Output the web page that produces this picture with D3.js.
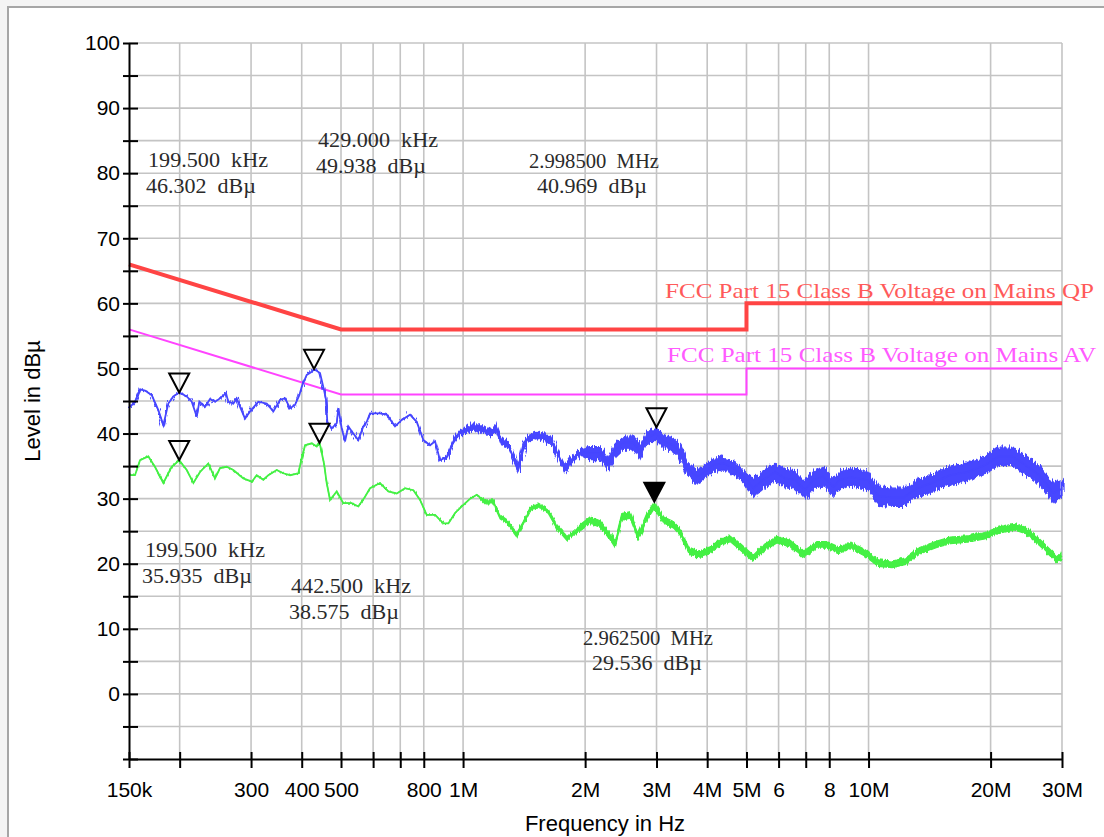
<!DOCTYPE html>
<html>
<head>
<meta charset="utf-8">
<script src="https://cdn.jsdelivr.net/npm/d3@7/dist/d3.min.js"></script>
<style>
body { margin: 0; background: #f4f4f4; }
svg { display: block; }
.tick text { font-family: "Liberation Sans", Arial, sans-serif; }
</style>
</head>
<body>
<div id="chart"></div>
<script>
// frequencies in kHz, levels in dBµV
var xTickVals = [150, 200, 300, 400, 500, 600, 700, 800, 1000, 2000, 3000, 4000, 5000, 6000, 7000, 8000, 10000, 20000, 30000];
var xTickLabels = ["150k", "", "300", "400", "500", "", "", "800", "1M", "2M", "3M", "4M", "5M", "6", "", "8", "10M", "20M", "30M"];
var yTickVals = d3.range(-10, 101, 5);

var qpFreq = [150, 500, 5000, 5000, 30000],
    qpLevel = [66, 56, 56, 60, 60];
var avFreq = [150, 500, 5000, 5000, 30000],
    avLevel = [56, 46, 46, 50, 50];

var blueFreq = [151,155.2,159.7,164.3,170.7,177.2,182.3,187.5,192.9,199.5,
  208.2,214.2,220.4,223.7,231,237.7,244.5,251.5,260.2,263.6,
  271.3,276.6,281.8,289.9,298.3,312.6,328,340.5,353.7,363.8,
  374.4,385.1,394.6,400,411.5,423.4,429,443.8,454,459.2,
  462.6,474.3,488,492.5,502,511.6,521.2,536.2,551.7,567.5,
  578.6,589.5,624,648.2,679.5,706,739.9,768.6,798.3,829,
  853,877,911,946,983,1021,1070,1112,1154,1211,
  1245,1293,1330,1369,1408,1448,1520,1578,1655,1718,
  1785,1871,1962,2057,2177,2282,2371,2486,2630,2733,
  2838,2998.5,3119,3301,3429,3562,3771,3914,4143,4385,
  4642,4914,5200,5504,5881,6225,6589,6972,7310,7739,
  8189,8506,9050,9972,10573,11429,12236,13100,14440,15915,
  17545,19340,20906,22594,24434,26410,28548,30000];
var blueLevel = [44.1,44.9,46.8,46.6,45.9,43.6,41.3,44.6,45.7,46.3,
  45.7,44.9,42.6,44.9,44.1,45.3,44.9,45.4,46.2,44.9,
  44.6,45.4,44.1,42.3,43.4,44.9,44.6,43.4,45.2,45.4,
  43.9,44.4,45.9,47.2,49.0,49.5,49.9,49.3,46.7,45.2,
  41.8,40.8,41.6,43.9,40.8,38.8,41.1,40.0,39.0,41.1,
  41.8,43.1,43.1,42.9,41.1,42.1,42.9,41.8,39.0,38.2,
  38.8,35.9,36.4,38.8,40.3,40.6,41.1,40.6,40.3,40.8,
  38.8,38.2,36.4,34.7,38.0,39.3,39.8,39.5,38.8,36.7,
  34.5,36.3,37.2,37.0,37.0,35.3,37.4,38.6,38.6,37.2,
  39.3,40.0,38.8,38.2,37.2,34.7,33.4,33.9,35.2,35.4,
  34.7,33.4,31.6,32.9,34.1,33.1,32.9,31.3,32.9,33.4,
  31.8,32.9,33.3,32.8,30.4,30.2,30.2,31.5,32.5,33.6,
  34.1,35.1,36.5,36.5,35.1,33.6,30.9,31.5];
// half width of the noisy band, from these frequencies on
var blueBandFreq = [150, 900, 1000, 2000, 5000],
    blueBandDb = [0, 0.3, 0.55, 1.0, 1.4];

var greenFreq = [151,155.2,159.7,167.4,173.8,182.3,191.1,199.5,208.2,216.2,
  224.5,235.3,244.5,251.5,261.2,271.3,287.1,301.2,309.8,321.7,
  330.9,347.1,360.3,374.4,392.4,400,407.6,423.4,435.6,442.5,
  454,461,469.8,488,506.6,531.5,551.7,573.1,589.5,624,
  654.2,686.1,719.4,754.2,783.3,813.5,853,894.1,920.1,955.7,
  992.7,1041,1081,1133,1188,1234,1281,1357,1408,1463,
  1534,1624,1703,1803,1871,1962,2057,2177,2305,2371,
  2463,2582,2707,2838,2962.5,3119,3301,3429,3596,3807,
  4067,4347,4558,4825,5200,5504,5942,6409,6911,7459,
  7898,8433,9050,9790,10573,11429,12359,13367,14738,15915,
  17545,19340,20906,22830,24434,26410,29117,30000];
var greenLevel = [33.6,33.6,35.9,36.5,34.9,32.4,34.9,35.9,34.4,32.4,
  34.1,35.4,33.1,34.7,34.9,34.4,33.1,32.6,33.6,32.9,
  33.6,34.4,33.9,33.6,33.9,36.2,38.2,38.5,38.0,38.6,
  35.4,32.4,29.8,31.1,29.3,29.3,28.8,30.3,31.6,32.4,
  31.1,30.8,31.6,31.3,29.8,27.5,27.5,26.2,26.2,27.8,
  28.8,30.0,30.6,29.5,29.5,27.2,26.5,24.4,26.2,28.3,
  29.0,28.0,25.7,23.9,24.7,25.7,26.7,26.1,24.2,23.0,
  27.2,27.5,24.2,27.2,29.0,26.7,26.0,24.9,22.1,21.4,
  22.1,23.4,23.9,22.6,20.8,22.4,23.7,23.1,21.4,22.9,
  22.9,22.1,22.8,21.7,20.1,19.9,20.4,22.0,23.0,23.6,
  23.8,24.3,25.1,25.7,25.1,23.3,20.7,21.2];
var greenBandFreq = [150, 1100, 1900],
    greenBandDb = [0, 0.3, 0.5];

var markerFreq = [199.5, 429, 2998.5, 199.5, 442.5, 2962.5],
    markerLevel = [46.302, 49.938, 40.969, 35.935, 38.575, 29.536],
    markerFilled = [false, false, false, false, false, true];

var noteLines = [
  ["199.500  kHz", "46.302  dBµ"],
  ["429.000  kHz", "49.938  dBµ"],
  ["2.998500  MHz", "40.969  dBµ"],
  ["199.500  kHz", "35.935  dBµ"],
  ["442.500  kHz", "38.575  dBµ"],
  ["2.962500  MHz", "29.536  dBµ"]
];
var notePos = [[148, 167, 146, 193], [318, 147, 316, 173], [529, 168, 537, 193],
               [145, 557, 142, 583], [291, 593, 289, 619], [583, 645, 592, 670]];

var limitNames = ["FCC Part 15 Class B Voltage on Mains QP", "FCC Part 15 Class B Voltage on Mains AV"];

var margin = {top: 43, left: 129},
    width = 933,
    height = 716;

var x = d3.scaleLog().domain([150, 30000]).range([0, width]);
var y = d3.scaleLinear().domain([-10, 100]).range([height, 0]);

var svg = d3.select("#chart").append("svg")
    .attr("width", 1104)
    .attr("height", 837);

// jagged edge for the receiver noise band
var defs = svg.append("defs");
function roughFilter(id, scale, seed) {
  var f = defs.append("filter")
      .attr("id", id)
      .attr("x", "-2%").attr("y", "-20%")
      .attr("width", "104%").attr("height", "140%");
  f.append("feTurbulence")
      .attr("type", "fractalNoise")
      .attr("baseFrequency", "0.7 0.04")
      .attr("numOctaves", 2)
      .attr("seed", seed)
      .attr("result", "t");
  f.append("feDisplacementMap")
      .attr("in", "SourceGraphic")
      .attr("in2", "t")
      .attr("scale", scale)
      .attr("xChannelSelector", "B")
      .attr("yChannelSelector", "R");
}
roughFilter("roughBlue", 9, 4);
roughFilter("roughGreen", 4, 7);

svg.append("rect")
    .attr("x", 8).attr("y", 7)
    .attr("width", 1110).attr("height", 850)
    .attr("fill", "#fff")
    .attr("stroke", "#a6a6a6")
    .attr("stroke-width", 2);

var g = svg.append("g")
    .attr("transform", "translate(" + margin.left + "," + margin.top + ")");

// grid
g.append("g").selectAll("line")
    .data(yTickVals.filter(function(d) { return d > -10; }))
    .enter().append("line")
    .attr("x1", 0).attr("x2", width)
    .attr("y1", function(d) { return y(d); })
    .attr("y2", function(d) { return y(d); })
    .attr("stroke", "#c4c4c4").attr("stroke-width", 1.6);

g.append("g").selectAll("line")
    .data(xTickVals.filter(function(d) { return d > 150; }))
    .enter().append("line")
    .attr("y1", 0).attr("y2", height)
    .attr("x1", function(d) { return x(d); })
    .attr("x2", function(d) { return x(d); })
    .attr("stroke", "#c4c4c4").attr("stroke-width", 1.6);

// limit lines
var limLine = d3.line()
    .x(function(d) { return x(d[0]); })
    .y(function(d) { return y(d[1]); });

g.append("path")
    .datum(d3.zip(avFreq, avLevel))
    .attr("d", limLine)
    .attr("fill", "none")
    .attr("stroke", "#ff44ff")
    .attr("stroke-width", 2);

g.append("path")
    .datum(d3.zip(qpFreq, qpLevel))
    .attr("d", limLine)
    .attr("fill", "none")
    .attr("stroke", "#ff4444")
    .attr("stroke-width", 4);

// traces
function bandAt(f, freqs, dbs) {
  var v = 0;
  freqs.forEach(function(b, i) { if (f >= b) v = dbs[i]; });
  return v;
}

function drawTrace(freqs, levels, bFreq, bDb, color, filterId) {
  var pts = freqs.map(function(f, i) {
    return {f: f, v: levels[i], b: bandAt(f, bFreq, bDb)};
  });
  var area = d3.area()
      .x(function(d) { return x(d.f); })
      .y0(function(d) { return y(d.v - d.b); })
      .y1(function(d) { return y(d.v + d.b); });
  var line = d3.line()
      .x(function(d) { return x(d.f); })
      .y(function(d) { return y(d.v); });
  g.append("path").datum(pts)
      .attr("d", area)
      .attr("fill", color)
      .attr("stroke", color)
      .attr("stroke-width", 1.2)
      .attr("filter", "url(#" + filterId + ")");
  g.append("path").datum(pts)
      .attr("d", line)
      .attr("fill", "none")
      .attr("stroke", color)
      .attr("stroke-width", 1.8);
}

drawTrace(greenFreq, greenLevel, greenBandFreq, greenBandDb, "#44f044", "roughGreen");
drawTrace(blueFreq, blueLevel, blueBandFreq, blueBandDb, "#4646ff", "roughBlue");

// markers
g.append("g").selectAll("path")
    .data(markerFreq)
    .enter().append("path")
    .attr("transform", function(d, i) {
      return "translate(" + x(d) + "," + y(markerLevel[i]) + ")"; })
    .attr("d", "M-10,-19L10,-19L0,0Z")
    .attr("fill", function(d, i) { return markerFilled[i] ? "#000" : "none"; })
    .attr("stroke", "#000")
    .attr("stroke-width", 2)
    .attr("stroke-linejoin", "miter");

// marker readouts
noteLines.forEach(function(lines, i) {
  var p = notePos[i];
  lines.forEach(function(t, j) {
    svg.append("text")
        .attr("x", p[j * 2]).attr("y", p[j * 2 + 1])
        .attr("textLength", t.length * 10)
        .attr("lengthAdjust", "spacingAndGlyphs")
        .style("white-space", "pre")
        .style("font-family", "'Liberation Serif', 'DejaVu Serif', serif")
        .style("font-size", "21px")
        .attr("fill", "#2a2a2a")
        .text(t);
  });
});

// limit names
[[665, 298, "#ff5a5a"], [667, 362, "#ff5aff"]].forEach(function(p, i) {
  svg.append("text")
      .attr("x", p[0]).attr("y", p[1])
      .attr("textLength", limitNames[i].length * 11)
      .attr("lengthAdjust", "spacingAndGlyphs")
      .style("font-family", "'Liberation Serif', 'DejaVu Serif', serif")
      .style("font-size", "21px")
      .attr("fill", p[2])
      .text(limitNames[i]);
});

// axes
var yAxis = d3.axisLeft(y)
    .tickValues(yTickVals)
    .tickSizeInner(6)
    .tickSizeOuter(0)
    .tickPadding(3)
    .tickFormat(function(d) { return (d >= 0 && d % 10 === 0) ? d : ""; });

var yg = g.append("g").call(yAxis);
yg.selectAll(".tick line").attr("x1", 9).attr("stroke-width", 2);
yg.select(".domain").attr("stroke-width", 2);
yg.selectAll("text").style("font-size", "21px").attr("fill", "#000");

var xAxis = d3.axisBottom(x)
    .tickValues(xTickVals)
    .tickSizeInner(9)
    .tickSizeOuter(0)
    .tickPadding(14)
    .tickFormat(function(d, i) { return xTickLabels[i]; });

var xg = g.append("g")
    .attr("transform", "translate(0," + height + ")")
    .call(xAxis);
xg.selectAll(".tick line").attr("y1", -7).attr("stroke-width", 2);
xg.select(".domain").attr("stroke-width", 2);
xg.selectAll("text").style("font-size", "21px").attr("fill", "#000");

svg.append("text")
    .attr("transform", "translate(40," + (margin.top + y(45)) + ") rotate(-90)")
    .style("text-anchor", "middle")
    .style("font-family", "'Liberation Sans', Arial, sans-serif")
    .style("font-size", "22px")
    .text("Level in dBµ");

svg.append("text")
    .attr("x", 605).attr("y", 831)
    .style("text-anchor", "middle")
    .style("font-family", "'Liberation Sans', Arial, sans-serif")
    .style("font-size", "22px")
    .text("Frequency in Hz");
</script>
</body>
</html>
